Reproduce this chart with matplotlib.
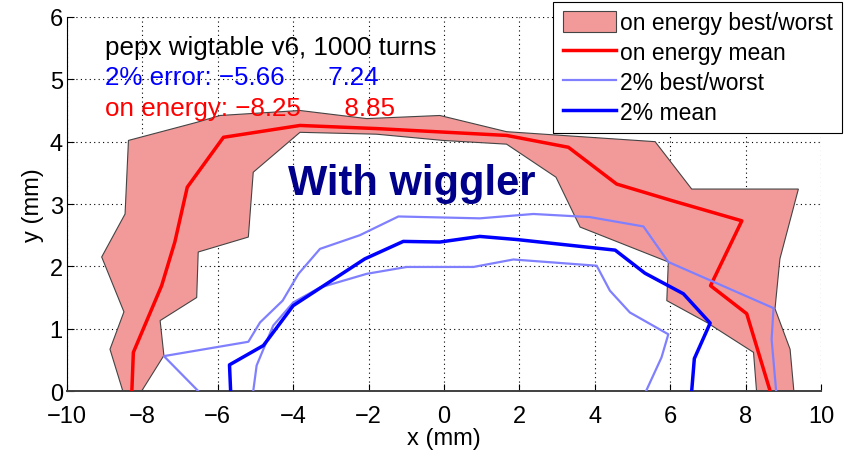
#!/usr/bin/env python3
"""dynamic aperture with wiggler"""

import matplotlib.pyplot as plt
from matplotlib.patches import Patch
from matplotlib.lines import Line2D

plt.rcParams["font.family"] = ["Liberation Sans", "DejaVu Sans"]

# on energy best/worst band: outer edge (left bottom -> right bottom)
energy_outer_x = [-8.52, -8.86, -8.49, -9.08, -8.46, -8.37, -6.56, -5.94, -3.82,
                  -2.05, -0.11, 1.66, 5.60, 6.57, 9.40, 8.91, 8.78, 9.18, 9.28]
energy_outer_y = [0.0, 0.67, 1.27, 2.15, 2.84, 4.02, 4.31, 4.42, 4.50,
                  4.37, 4.42, 4.16, 4.00, 3.24, 3.24, 2.12, 1.32, 0.67, 0.0]
# inner edge (right bottom -> left bottom)
energy_inner_x = [8.29, 8.21, 6.97, 5.91, 5.95, 3.61, 2.97, 1.66, -0.03, -1.79,
                  -3.82, -5.06, -5.19, -6.52, -6.56, -7.53, -7.43, -8.02]
energy_inner_y = [0.0, 0.62, 1.10, 1.45, 2.07, 2.63, 3.43, 3.96, 4.02, 4.12,
                  4.15, 3.51, 2.47, 2.23, 1.50, 1.13, 0.57, 0.0]

# on energy mean
energy_mean_x = [-8.28, -8.24, -7.49, -7.14, -6.81, -5.85, -3.82, -1.79, 1.66,
                 3.30, 4.58, 6.07, 7.90, 7.07, 8.03, 8.65]
energy_mean_y = [0.0, 0.62, 1.69, 2.39, 3.27, 4.07, 4.26, 4.21, 4.10,
                 3.91, 3.32, 3.05, 2.73, 1.69, 1.24, 0.0]

# 2% error best / worst
err_best_x = [-6.52, -7.43, -5.19, -4.88, -4.28, -3.86, -3.29, -2.23, -1.21,
              0.95, 2.37, 3.87, 5.29, 5.95, 8.74, 8.69, 8.81]
err_best_y = [0.0, 0.56, 0.79, 1.10, 1.45, 1.88, 2.28, 2.50, 2.80,
              2.77, 2.84, 2.79, 2.64, 2.07, 1.33, 0.83, 0.0]
err_worst_x = [-5.06, -4.97, -4.53, -4.00, -3.29, -2.05, -0.99, 0.78, 1.84,
               4.05, 4.40, 4.93, 5.95, 5.77, 5.36]
err_worst_y = [0.0, 0.41, 1.05, 1.42, 1.66, 1.88, 1.99, 1.99, 2.11,
               2.01, 1.61, 1.26, 0.91, 0.54, 0.0]

# 2% error mean
err_mean_x = [-5.66, -5.69, -4.79, -4.00, -2.10, -1.08, -0.11, 0.95, 1.93,
              4.54, 5.33, 6.35, 7.06, 6.64, 6.57]
err_mean_y = [0.0, 0.42, 0.73, 1.37, 2.12, 2.40, 2.39, 2.48, 2.43,
              2.26, 1.89, 1.56, 1.09, 0.52, 0.0]

x_ticks = [-10, -8, -6, -4, -2, 0, 2, 4, 6, 8, 10]
y_ticks = [0, 1, 2, 3, 4, 5, 6]

band_color = "#f29a9a"
light_blue = "#8080ff"


def plot(fig, ax):
    ax.fill(energy_outer_x + energy_inner_x, energy_outer_y + energy_inner_y,
            facecolor=band_color, edgecolor="#444444", linewidth=0.8, zorder=2)
    ax.plot(energy_mean_x, energy_mean_y, color="red", lw=2.5, zorder=3)
    ax.plot(err_best_x, err_best_y, color=light_blue, lw=1.6, zorder=4)
    ax.plot(err_worst_x, err_worst_y, color=light_blue, lw=1.6, zorder=4)
    ax.plot(err_mean_x, err_mean_y, color="blue", lw=2.5, zorder=5)

    ax.set_xlim(-10, 10)
    ax.set_ylim(0, 6)
    ax.set_xticks(x_ticks)
    ax.set_yticks(y_ticks)
    ax.set_xticklabels([str(t).replace("-", "\u2212") for t in x_ticks])
    ax.tick_params(direction="in", labelsize=17, length=5)
    ax.tick_params(axis="x", pad=10)
    ax.tick_params(axis="y", pad=3)
    ax.grid(True, linestyle=(0, (1, 3)), color="black", linewidth=0.8)
    for side in ("top", "right"):
        ax.spines[side].set_visible(False)
    ax.spines["bottom"].set_color("#404040")
    ax.spines["bottom"].set_linewidth(1.4)
    ax.set_xlabel("x (mm)", fontsize=17, labelpad=0)
    ax.set_ylabel("y (mm)", fontsize=17, labelpad=4)

    ax.text(-9.0, 5.52, "pepx wigtable v6, 1000 turns", fontsize=18.7,
            va="center", color="black")
    ax.text(-9.0, 5.03, "2% error: \u22125.66      7.24", fontsize=18.7,
            va="center", color="blue")
    ax.text(-9.0, 4.54, "on energy: \u22128.25      8.85", fontsize=18.7,
            va="center", color="red")
    ax.text(-0.85, 3.33, "With wiggler", fontsize=30, fontweight="bold",
            ha="center", va="center", color="#00008b", zorder=6)

    handles = [
        Patch(facecolor=band_color, edgecolor="#444444", linewidth=0.8),
        Line2D([], [], color="red", lw=2.5),
        Line2D([], [], color=light_blue, lw=1.6),
        Line2D([], [], color="blue", lw=2.5),
    ]
    labels = ["on energy best/worst", "on energy mean", "2% best/worst", "2% mean"]
    leg = fig.legend(handles, labels, loc="upper right",
                     bbox_to_anchor=(0.9964, 0.9934), borderaxespad=0,
                     fontsize=16.5, fancybox=False, framealpha=1,
                     edgecolor="black", handlelength=2.35, handleheight=1.0,
                     handletextpad=0.15, labelspacing=0.3, borderpad=0.4)
    leg.get_frame().set_linewidth(0.8)


def main():
    fig = plt.figure(figsize=(8.45, 4.52), dpi=100)
    ax = fig.add_axes([0.0793, 0.1327, 0.8923, 0.8275])
    plot(fig, ax)
    fig.savefig("out.png", dpi=100)


if __name__ == "__main__":
    main()
